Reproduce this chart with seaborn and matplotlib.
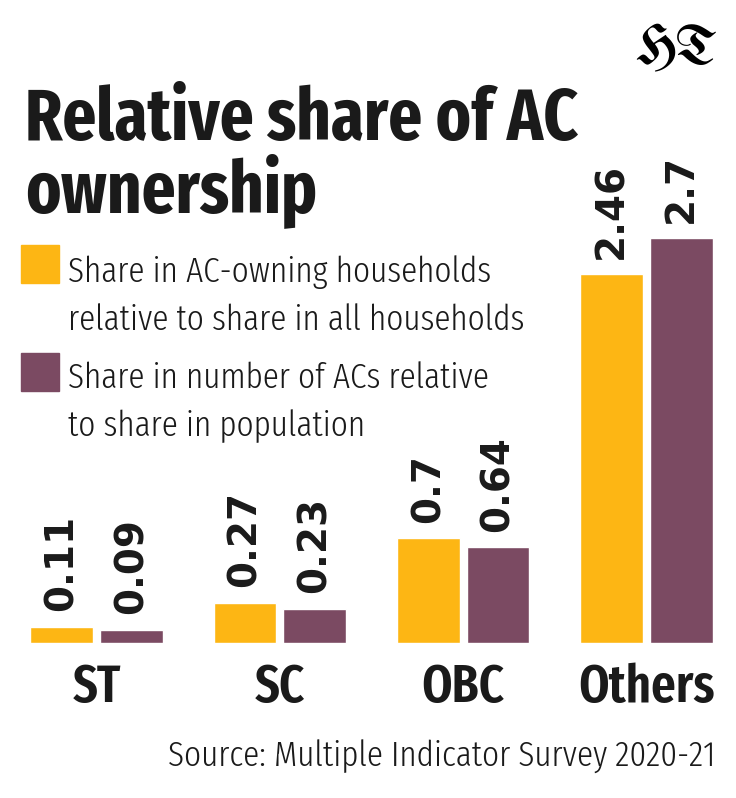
import pandas as pd
import seaborn as sns
import matplotlib.pyplot as plt
from matplotlib.patches import Rectangle

# === Data ===
groups = ["ST", "SC", "OBC", "Others"]
hh_share = [0.11, 0.27, 0.70, 2.46]      # share in AC-owning households / share in all households
ac_share = [0.09, 0.23, 0.64, 2.70]      # share in number of ACs / share in population
series = ["Share in AC-owning households\nrelative to share in all households",
          "Share in number of ACs relative\nto share in population"]
colors = ["#FDB614", "#7B4A62"]

df = pd.DataFrame({
    "group": groups * 2,
    "value": hh_share + ac_share,
    "series": [series[0]] * len(groups) + [series[1]] * len(groups),
})

sns.set_style("white")
cond = ["Fira Sans Extra Condensed", "DejaVu Sans"]
ink = "#1a1a1a"

fig = plt.figure(figsize=(7.36, 7.98), dpi=100)
W, H = 736, 798

# axes: baseline at y=643px, top at 200px
ax = fig.add_axes([0, (H - 643) / H, 1, (643 - 200) / H])
sns.barplot(data=df, x="group", y="value", hue="series", order=groups,
            hue_order=series, palette=colors, width=0.76, gap=0.1,
            saturation=1, legend=False, ax=ax)
ax.set_xlim(-96.5 / 183.3, 3 + (736 - 646.5) / 183.3)
ax.set_ylim(0, 443 / 150)
sns.despine(ax=ax, left=True, bottom=True)
ax.set_yticks([])
ax.set_xlabel("")
ax.set_ylabel("")
ax.tick_params(axis="x", length=0, pad=14)
for lbl in ax.get_xticklabels():
    lbl.set_fontfamily(cond)
    lbl.set_fontweight(600)
    lbl.set_fontsize(38)
    lbl.set_color(ink)

for cont in ax.containers:
    ax.bar_label(cont, fmt="%g", rotation=90, padding=11, fontsize=28,
                 fontweight="bold", color=ink, family="DejaVu Sans")

# === Title ===
fig.text(25 / W, 1 - 140 / H, "Relative share of AC", fontsize=52, fontweight="bold",
         family=cond, color=ink, va="baseline", ha="left")
fig.text(25 / W, 1 - 212 / H, "ownership", fontsize=52, fontweight="bold",
         family=cond, color=ink, va="baseline", ha="left")

# HT logo
fig.text(718 / W, 1 - 64 / H, "HT", fontsize=40, family=["UnifrakturMaguntia", "DejaVu Serif"],
         color="black", va="baseline", ha="right")

# === Legend ===
leg_rows = [(245, 282), (353, 388)]
for (top, base), lab, c in zip(leg_rows, series, colors):
    fig.patches.append(Rectangle((21 / W, 1 - (top + 38) / H), 38 / W, 38 / H,
                                 transform=fig.transFigure, color=c))
    for k, line in enumerate(lab.split("\n")):
        fig.text(68 / W, 1 - (base + 48 * k) / H, line, fontsize=26, fontweight=300,
                 family=cond, color=ink, va="baseline", ha="left")

# === Source ===
fig.text(716 / W, 1 - 767 / H, "Source: Multiple Indicator Survey 2020-21", fontsize=26,
         fontweight=300, family=cond, color=ink, va="baseline", ha="right")

fig.savefig("out.png", dpi=100)
